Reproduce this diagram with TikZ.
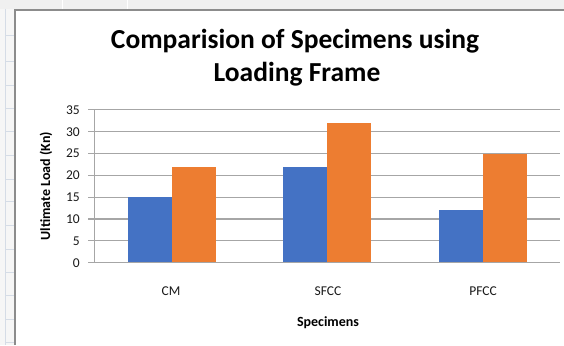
\documentclass[tikz,border=0pt]{standalone}
\usepackage{fontspec}
\setmainfont{Carlito}
\definecolor{barblue}{HTML}{4472C4}
\definecolor{barorange}{HTML}{ED7D31}
\definecolor{gridgray}{HTML}{A6A6A6}
\definecolor{sheetline}{HTML}{D5DCE6}
\definecolor{sheetbg}{HTML}{F0F0F0}
\definecolor{borderg}{HTML}{8C8C8C}
\definecolor{labtext}{HTML}{1A1A1A}
\begin{document}
\begin{tikzpicture}[x=1pt,y=-1pt,
  gridln/.style={draw=gridgray,line width=1.1pt},
  ticklab/.style={anchor=east,inner sep=0pt,font=\fontsize{13.5}{16}\selectfont,text=labtext},
  catlab/.style={inner sep=0pt,font=\fontsize{13.5}{16}\selectfont,text=labtext},
  axtitle/.style={inner sep=0pt,font=\fontsize{14}{17}\selectfont\bfseries,text=black},
  titletext/.style={anchor=base,inner sep=0pt,font=\fontsize{27.5}{32}\selectfont\bfseries,text=black},
  bluebar/.style={fill=barblue},
  orangebar/.style={fill=barorange}]
\useasboundingbox (0,0) rectangle (564,345);
\fill[white] (0,0) rectangle (564,345);
% spreadsheet background
\fill[sheetbg] (0,0) rectangle (564,9);
\fill[sheetbg!60] (0,9) rectangle (15,345);
\draw[sheetline,line width=0.8pt] (5,9) -- (5,345);
\foreach \yy in {35.7,61.7,85,108.3,131.7,155,179,201.7,225.7,249,272.3,295.7,319,342.3}
  \draw[sheetline,line width=1pt] (5,\yy) -- (15,\yy);
\draw[white,line width=1pt] (62,0) -- (62,9);
\draw[white,line width=1pt] (127,0) -- (127,9);
% chart border
\draw[borderg,line width=1.2pt] (15,345) -- (15,10) -- (564,10);
% title
\node[titletext] (t1) at (295,48.3) {Comparision of Specimens using};
\node[titletext] (t2) at (297,81) {Loading Frame};
% plot
\begin{scope}[shift={(94.7,262.7)},y=4.3657pt]
  \foreach \v in {5,10,...,35}
    \draw[gridln] (-6.5,\v) -- (465.3,\v);
  \foreach \v in {0,5,...,35}
    \node[ticklab] (tick\v) at (-14.7,\v) {\v};
  % bars
  \foreach \c/\b/\o/\n in {77.6/15/22/cm,232.7/22/32/sfcc,387.8/12/25/pfcc}{
    \fill[bluebar] (\c-44,0) rectangle (\c,\b);
    \fill[orangebar] (\c,0) rectangle (\c+44,\o);
  }
  \draw[gridln] (0,0) -- (0,35);
  \draw[gridln] (-6.5,0) -- (465.3,0);
\end{scope}
% labels
\node[catlab] (cm) at (171,291) {CM};
\node[catlab] (sfcc) at (328,291) {SFCC};
\node[catlab] (pfcc) at (483,291) {PFCC};
\node[axtitle] (xt) at (328,323) {Specimens};
\node[axtitle,rotate=90] (yt) at (46,186) {Ultimate Load (Kn)};
\end{tikzpicture}
\end{document}
